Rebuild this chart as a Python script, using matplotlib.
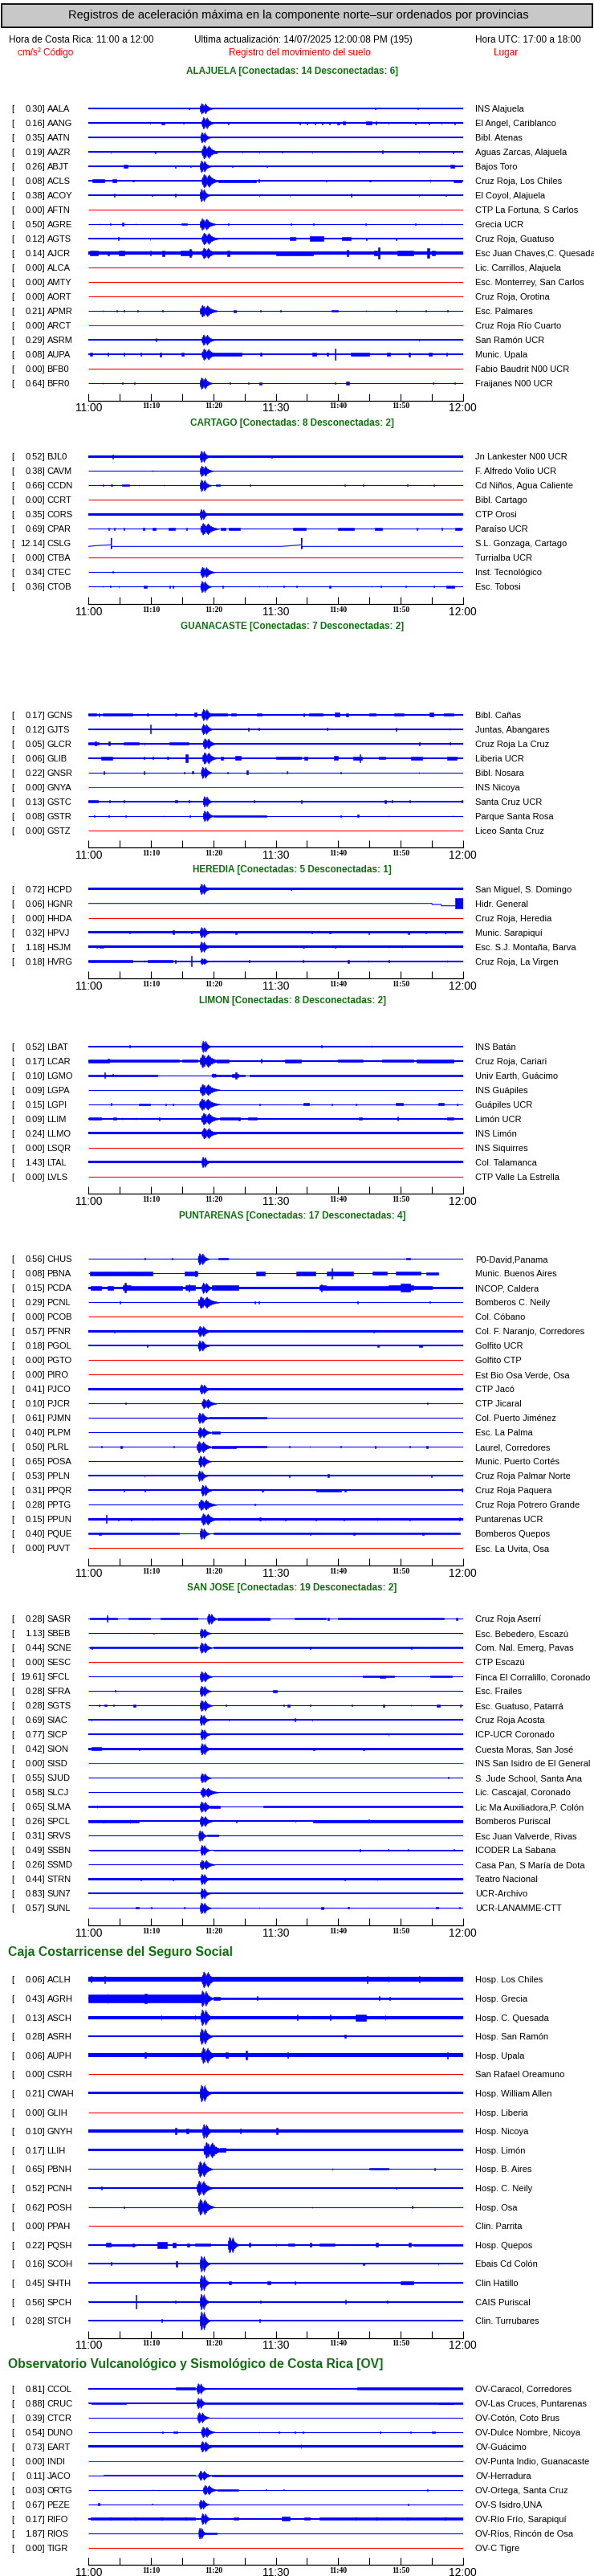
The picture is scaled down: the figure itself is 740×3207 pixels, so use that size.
import numpy as np
import matplotlib
matplotlib.use("Agg")
import matplotlib.pyplot as plt
from matplotlib.patches import Rectangle

W, H = 740, 3207
BLUE = '#0000ff'
RED = '#ff0000'
GREEN = '#0f700f'
SANS = ['Liberation Sans', 'DejaVu Sans']
SERIF = ['Liberation Serif', 'DejaVu Serif']

TITLE = 'Registros de aceleración máxima en la componente norte\u2013sur ordenados por provincias'
HORA_CR = 'Hora de Costa Rica: 11:00 a 12:00'
UPDATED = 'Ultima actualización: 14/07/2025 12:00:08 PM (195)'
HORA_UTC = 'Hora UTC: 17:00 a 18:00'

TICK_MIN = list(range(0, 61, 5))
TICK_TEXT = ['11:00', '', '11:10', '', '11:20', '', '11:30', '', '11:40', '', '11:50', '', '12:00']
BIG_TICKS = ['11:00', '11:30', '12:00']

QUAKE_T = [0.00, 0.03, 0.07, 0.11, 0.15, 0.19, 0.23, 0.27, 0.31, 0.35, 0.39,
           0.43, 0.47, 0.51, 0.55, 0.60, 0.65, 0.71, 0.77, 0.84, 0.92, 1.00]
QUAKE_A = [0.10, 0.55, 0.35, 0.90, 1.00, 0.60, 0.85, 0.45, 0.40, 0.65, 0.80,
           0.95, 0.55, 0.70, 0.40, 0.45, 0.30, 0.28, 0.18, 0.15, 0.08, 0.04]

# ---------------- ALAJUELA
ALA_CODES = ['AALA', 'AANG', 'AATN', 'AAZR', 'ABJT', 'ACLS', 'ACOY', 'AFTN', 'AGRE', 'AGTS',
             'AJCR', 'ALCA', 'AMTY', 'AORT', 'APMR', 'ARCT', 'ASRM', 'AUPA', 'BFB0', 'BFR0']
ALA_PEAKS = [0.30, 0.16, 0.35, 0.19, 0.26, 0.08, 0.38, 0.00, 0.50, 0.12,
             0.14, 0.00, 0.00, 0.00, 0.21, 0.00, 0.29, 0.08, 0.00, 0.64]
ALA_PLACES = ['INS Alajuela', 'El Angel, Cariblanco', 'Bibl. Atenas', 'Aguas Zarcas, Alajuela',
              'Bajos Toro', 'Cruz Roja, Los Chiles', 'El Coyol, Alajuela', 'CTP La Fortuna, S Carlos',
              'Grecia UCR', 'Cruz Roja, Guatuso', 'Esc Juan Chaves,C. Quesada',
              'Lic. Carrillos, Alajuela', 'Esc. Monterrey, San Carlos', 'Cruz Roja, Orotina',
              'Esc. Palmares', 'Cruz Roja Río Cuarto', 'San Ramón UCR', 'Munic. Upala',
              'Fabio Baudrit N00 UCR', 'Fraijanes N00 UCR']
ALA_NOISE = [0.8, 0.6, 0.8, 0.9, 0.6, 1.0, 0.6, 0, 0.4, 1.0, 2.0, 0, 0, 0, 0.4, 0, 1.2, 1.3, 0, 0.4]
ALA_QUAKE = [(17.8, 2.1, 6.7), (18.1, 2.0, 7.3), (17.9, 1.6, 6.7), (18.1, 2.7, 8.3), (17.8, 1.8, 7.3),
             (18.1, 2.8, 8.3), (17.8, 1.6, 8.0), (0, 0, 0), (17.8, 2.6, 7.3), (18.1, 2.7, 7.3),
             (18.1, 2.5, 6.7), (0, 0, 0), (0, 0, 0), (0, 0, 0), (17.8, 2.9, 7.3),
             (0, 0, 0), (18.1, 2.1, 6.7), (18.1, 2.6, 7.0), (0, 0, 0), (17.8, 2.0, 7.3)]
ALA_BURSTS = [
    [(16.0, 16.1, 1.2), (45.9, 46.0, 1.3), (52.7, 52.8, 1.3)],
    [(0.4, 0.5, 1.3), (9.8, 9.9, 1.5), (11.6, 12.2, 1.5), (15.1, 15.2, 1.3), (22.3, 22.5, 1.5),
     (33.8, 33.9, 1.5), (35.0, 35.1, 1.5), (36.2, 36.3, 1.5), (37.4, 37.5, 1.5), (38.6, 38.7, 1.5),
     (39.8, 40.2, 1.5), (40.7, 41.1, 1.8), (44.5, 45.3, 1.8), (46.0, 46.1, 2.0), (48.0, 48.1, 1.5),
     (52.3, 52.4, 1.5), (54.5, 54.6, 1.5), (56.5, 56.6, 1.5), (58.6, 58.7, 1.5)],
    [],
    [(3.5, 3.6, 1.5), (10.6, 10.7, 1.5), (20.3, 20.5, 1.5), (24.6, 24.7, 1.5), (27.3, 27.4, 1.5),
     (31.0, 31.1, 1.3), (35.8, 35.9, 1.5), (47.0, 47.2, 1.8), (52.9, 53.0, 1.5), (58.4, 58.5, 1.5)],
    [(5.6, 6.2, 1.8), (13.9, 14.0, 1.5), (16.3, 16.4, 1.3), (23.0, 23.1, 1.3), (28.5, 28.6, 1.3),
     (58.0, 58.6, 1.8)],
    [(0.6, 2.5, 1.6), (3.8, 4.4, 1.6), (7.0, 7.3, 1.4), (20.8, 26.8, 1.5), (27.2, 27.4, 2.2),
     (38.0, 38.2, 1.4), (45.0, 45.2, 1.4), (54.7, 54.8, 1.6), (58.5, 59.8, 1.5)],
    [(4.1, 4.2, 2.3), (10.1, 10.2, 1.3), (13.9, 14.0, 2.0), (27.3, 27.4, 1.5), (32.2, 32.3, 1.5),
     (42.0, 42.1, 2.0), (52.9, 53.0, 1.5), (57.2, 57.3, 1.3)],
    [],
    [(1.7, 1.8, 1.0), (3.4, 3.5, 1.0), (5.3, 5.6, 2.0), (7.5, 7.6, 1.0), (14.9, 15.8, 1.0),
     (22.3, 22.4, 1.3), (32.4, 32.5, 1.0), (36.0, 36.1, 1.3), (44.3, 44.4, 1.0), (52.3, 52.4, 1.0),
     (56.5, 56.6, 1.0)],
    [(4.7, 4.8, 2.3), (9.8, 9.9, 1.5), (32.2, 33.1, 2.2), (35.5, 37.6, 2.8), (40.6, 42.0, 1.8),
     (44.4, 44.6, 1.5), (49.2, 49.4, 1.5)],
    [(0.2, 1.5, 3.0), (3.0, 3.3, 2.5), (4.8, 5.8, 3.0), (9.8, 10.0, 3.0), (11.8, 12.2, 3.5),
     (14.8, 16.5, 3.3), (16.2, 16.4, 5.0), (22.2, 22.6, 3.5), (30.0, 36.0, 2.5), (41.4, 41.6, 4.0),
     (45.8, 46.6, 3.3), (46.4, 46.6, 6.7), (49.5, 52.0, 2.8), (54.2, 54.6, 6.0), (55.0, 55.5, 3.0)],
    [], [], [],
    [(2.2, 2.3, 1.0), (4.5, 4.6, 1.0), (5.6, 5.7, 1.0), (7.8, 7.9, 1.0), (11.8, 11.9, 1.0),
     (23.2, 23.6, 1.5), (27.5, 27.6, 1.0), (30.7, 30.8, 1.0), (38.9, 40.0, 1.2), (44.4, 44.5, 1.0),
     (49.2, 49.3, 1.0), (54.0, 54.1, 1.0), (57.5, 57.6, 1.0)],
    [],
    [(10.8, 10.9, 2.0), (52.9, 53.0, 1.5)],
    [(0.2, 0.6, 2.0), (3.0, 3.2, 2.0), (5.6, 5.8, 2.0), (8.3, 8.5, 2.0), (11.4, 11.6, 2.5),
     (14.9, 15.2, 2.0), (19.8, 24.5, 2.0), (27.5, 27.8, 2.0), (35.8, 36.5, 2.0), (38.2, 38.4, 2.0),
     (39.4, 39.6, 7.3), (42.0, 45.0, 2.0), (47.8, 48.3, 2.0), (51.3, 51.5, 2.5), (54.5, 55.0, 2.0),
     (57.3, 57.5, 2.3)],
    [],
    [(2.2, 2.3, 1.0), (5.4, 5.5, 1.3), (7.3, 7.4, 1.0), (22.6, 22.7, 1.0), (25.6, 25.7, 1.0),
     (27.4, 27.7, 1.5), (39.5, 39.6, 1.3), (41.2, 41.7, 1.6), (55.2, 55.3, 1.3), (58.6, 58.7, 1.3)],
]

# ---------------- CARTAGO
CAR_CODES = ['BJL0', 'CAVM', 'CCDN', 'CCRT', 'CORS', 'CPAR', 'CSLG', 'CTBA', 'CTEC', 'CTOB']
CAR_PEAKS = [0.52, 0.38, 0.66, 0.00, 0.35, 0.69, 12.14, 0.00, 0.34, 0.36]
CAR_PLACES = ['Jn Lankester N00 UCR', 'F. Alfredo Volio UCR', 'Cd Niños, Agua Caliente',
              'Bibl. Cartago', 'CTP Orosi', 'Paraíso UCR', 'S.L. Gonzaga, Cartago',
              'Turrialba UCR', 'Inst. Tecnológico', 'Esc. Tobosi']
CAR_NOISE = [1.3, 0.4, 0.5, 0, 1.4, 0.7, 0.4, 0, 0.5, 0.45]
CAR_QUAKE = [(17.8, 1.6, 7.3), (17.8, 2.1, 6.7), (17.8, 1.8, 7.3), (0, 0, 0), (17.8, 1.4, 6.7),
             (17.9, 2.9, 7.3), (0, 0, 0), (0, 0, 0), (17.9, 2.3, 6.7), (17.9, 1.7, 7.3)]
CAR_BURSTS = [
    [(3.8, 3.9, 2.3), (29.3, 29.4, 1.5)],
    [(10.2, 10.3, 1.0)],
    [(2.3, 2.4, 1.0), (3.6, 3.8, 1.2), (5.3, 6.5, 1.2), (8.0, 8.1, 1.0), (12.0, 12.1, 1.0),
     (20.4, 21.0, 1.2), (25.8, 25.9, 1.0), (41.0, 41.1, 1.0), (44.0, 44.1, 1.0), (51.0, 51.1, 1.0),
     (55.3, 55.4, 1.0)],
    [],
    [],
    [(3.2, 3.3, 1.3), (4.1, 4.2, 1.3), (5.6, 5.7, 1.3), (8.7, 9.0, 1.3), (10.2, 10.8, 1.5),
     (12.8, 13.8, 1.5), (15.7, 15.8, 1.3), (21.2, 22.0, 1.5), (22.4, 24.2, 1.6), (32.8, 34.8, 1.5),
     (40.0, 42.5, 1.6), (45.9, 47.0, 1.6), (52.6, 52.7, 1.3), (56.6, 56.7, 1.3), (58.8, 59.8, 1.5)],
    [],
    [],
    [(3.8, 3.9, 1.0)],
    [(2.2, 2.3, 1.0), (3.4, 3.5, 1.0), (4.8, 4.9, 1.8), (8.8, 9.4, 1.5), (13.0, 13.1, 1.3),
     (13.5, 13.6, 1.3), (21.4, 21.5, 1.3), (27.3, 27.4, 1.0), (28.6, 28.7, 1.0), (31.2, 31.3, 1.0),
     (33.3, 33.4, 1.0), (38.6, 38.8, 1.7), (45.3, 45.4, 1.2), (46.8, 46.9, 1.2), (50.8, 50.9, 1.0),
     (55.3, 55.4, 1.0), (57.3, 58.6, 1.5)],
]

# ---------------- GUANACASTE
GUA_CODES = ['GCNS', 'GJTS', 'GLCR', 'GLIB', 'GNSR', 'GNYA', 'GSTC', 'GSTR', 'GSTZ']
GUA_PEAKS = [0.17, 0.12, 0.05, 0.06, 0.22, 0.00, 0.13, 0.08, 0.00]
GUA_PLACES = ['Bibl. Cañas', 'Juntas, Abangares', 'Cruz Roja La Cruz', 'Liberia UCR',
              'Bibl. Nosara', 'INS Nicoya', 'Santa Cruz UCR', 'Parque Santa Rosa', 'Liceo Santa Cruz']
GUA_NOISE = [1.0, 1.0, 1.1, 1.2, 0.4, 0, 1.1, 0.4, 0]
GUA_QUAKE = [(18.1, 1.9, 7.3), (18.1, 1.8, 6.7), (18.3, 2.1, 6.7), (18.2, 2.4, 7.3), (18.0, 1.7, 7.3),
             (0, 0, 0), (18.3, 1.5, 6.7), (18.3, 1.7, 6.7), (0, 0, 0)]
GUA_BURSTS = [
    [(0.0, 1.2, 1.4), (1.6, 1.8, 1.8), (2.2, 7.0, 1.3), (9.4, 9.6, 1.5), (13.9, 14.1, 1.5),
     (16.9, 17.3, 2.7), (19.6, 22.2, 1.4), (22.9, 23.6, 1.5), (27.0, 27.8, 1.5), (34.4, 34.6, 1.8),
     (35.3, 37.5, 1.4), (39.4, 40.2, 2.3), (41.3, 41.6, 2.0), (45.0, 46.0, 1.5), (49.0, 50.5, 1.4),
     (54.6, 55.3, 2.3), (57.0, 58.5, 1.5)],
    [(9.9, 10.0, 5.3), (25.5, 25.7, 1.8), (27.2, 27.3, 1.5), (38.2, 38.3, 1.5), (49.2, 49.4, 2.0),
     (57.8, 57.9, 1.5)],
    [(0.0, 1.6, 1.5), (1.0, 1.2, 2.3), (3.2, 3.4, 2.3), (5.6, 8.0, 1.4), (8.9, 9.0, 1.8),
     (13.0, 16.0, 1.4), (52.9, 53.1, 1.8), (57.9, 58.0, 1.5)],
    [(2.0, 3.8, 1.8), (8.8, 9.0, 1.6), (10.2, 10.4, 1.6), (12.6, 12.8, 1.6), (15.5, 15.9, 5.0),
     (21.2, 21.6, 1.8), (23.5, 24.4, 2.5), (30.0, 34.0, 1.5), (34.6, 35.1, 2.0), (39.3, 39.9, 2.7),
     (42.4, 43.8, 2.0), (43.4, 43.6, 5.0), (46.5, 47.5, 1.6), (51.7, 53.5, 1.8), (57.5, 59.0, 1.8)],
    [(2.4, 2.5, 1.8), (8.8, 8.9, 1.8), (15.3, 15.4, 1.2), (16.6, 16.8, 1.6), (22.2, 22.3, 1.2),
     (25.3, 25.5, 2.7), (30.9, 31.0, 1.2), (31.7, 31.9, 1.4), (40.4, 40.5, 1.0), (52.9, 53.0, 1.0)],
    [],
    [(0.0, 1.5, 1.4), (3.3, 3.4, 1.4), (5.6, 5.7, 1.4), (13.8, 14.2, 1.6), (16.0, 16.1, 1.6),
     (26.5, 26.6, 1.5), (34.0, 34.2, 1.8), (47.4, 47.7, 2.0), (48.6, 48.7, 1.6), (51.4, 51.5, 1.6),
     (59.8, 60.0, 1.6)],
    [(20.0, 28.5, 1.0), (0.9, 1.0, 0.9), (3.2, 3.3, 0.9), (5.9, 6.0, 0.9), (12.0, 12.1, 1.0),
     (16.2, 16.3, 1.0), (40.3, 40.5, 1.2), (43.1, 43.3, 1.3), (48.0, 48.1, 1.0), (58.3, 58.4, 0.9)],
    [],
]

# ---------------- HEREDIA
HER_CODES = ['HCPD', 'HGNR', 'HHDA', 'HPVJ', 'HSJM', 'HVRG']
HER_PEAKS = [0.72, 0.06, 0.00, 0.32, 1.18, 0.18]
HER_PLACES = ['San Miguel, S. Domingo', 'Hidr. General', 'Cruz Roja, Heredia', 'Munic. Sarapiquí',
              'Esc. S.J. Montaña, Barva', 'Cruz Roja, La Virgen']
HER_NOISE = [1.3, 0.4, 0, 1.2, 1.2, 1.0]
HER_QUAKE = [(17.8, 1.6, 6.7), (0, 0, 0), (0, 0, 0), (17.8, 1.7, 6.7), (17.8, 1.6, 6.7), (17.9, 1.5, 4.0)]
HER_BURSTS = [
    [(32.4, 32.5, 1.7)],
    [(58.8, 60.0, 6.5)],
    [],
    [(6.5, 6.6, 1.5), (13.5, 13.7, 2.3), (16.4, 16.5, 1.5), (23.5, 23.7, 2.0), (35.7, 35.8, 1.5),
     (38.6, 38.8, 1.8), (44.8, 45.0, 2.0), (51.2, 51.4, 2.0), (54.0, 54.1, 1.5), (57.1, 57.2, 1.5)],
    [(1.2, 1.3, 1.8), (1.7, 2.4, 1.6), (34.3, 34.5, 1.7), (39.5, 39.6, 1.5), (48.0, 48.1, 1.5),
     (50.2, 50.3, 1.5)],
    [(16.4, 16.6, 6.7), (0.0, 7.0, 1.3), (8.9, 9.0, 1.6), (9.5, 13.5, 1.2), (13.8, 14.0, 2.0),
     (25.7, 25.8, 1.5), (34.3, 34.4, 1.6), (41.5, 41.7, 2.0), (44.8, 44.9, 1.5), (48.0, 48.2, 1.8),
     (57.4, 57.5, 1.8)],
]

# ---------------- LIMON
LIM_CODES = ['LBAT', 'LCAR', 'LGMO', 'LGPA', 'LGPI', 'LLIM', 'LLMO', 'LSQR', 'LTAL', 'LVLS']
LIM_PEAKS = [0.52, 0.17, 0.10, 0.09, 0.15, 0.09, 0.24, 0.00, 1.43, 0.00]
LIM_PLACES = ['INS Batán', 'Cruz Roja, Cariari', 'Univ Earth, Guácimo', 'INS Guápiles',
              'Guápiles UCR', 'Limón UCR', 'INS Limón', 'INS Siquirres', 'Col. Talamanca',
              'CTP Valle La Estrella']
LIM_NOISE = [1.1, 0.9, 0.5, 0.4, 0.45, 0.8, 1.4, 0, 1.6, 0]
LIM_QUAKE = [(18.1, 1.5, 7.3), (17.8, 3.2, 8.3), (19.7, 1.2, 2.5), (17.8, 3.2, 7.3), (17.7, 3.3, 7.3),
             (18.0, 3.0, 7.3), (18.1, 2.7, 6.7), (0, 0, 0), (18.1, 1.3, 6.7), (0, 0, 0)]
LIM_BURSTS = [
    [(6.5, 6.6, 1.5), (37.3, 37.4, 1.5), (45.3, 45.4, 1.5)],
    [(0.0, 3.0, 1.8), (3.0, 3.3, 2.7), (3.3, 14.5, 1.7), (15.0, 17.5, 1.7), (20.5, 22.5, 1.8),
     (27.6, 27.8, 2.7), (31.5, 34.0, 1.8), (40.0, 44.0, 1.7), (47.0, 52.0, 1.5), (52.5, 58.5, 1.8)],
    [(0.0, 11.0, 1.0), (2.5, 2.7, 3.5), (3.8, 3.9, 1.3), (20.3, 25.0, 1.0), (23.0, 24.0, 1.8),
     (23.5, 23.8, 4.0), (25.8, 60.0, 1.0)],
    [],
    [(3.6, 3.7, 1.3), (8.1, 9.8, 1.2), (12.3, 12.4, 1.1), (13.5, 13.6, 1.1), (27.4, 27.5, 1.1),
     (34.4, 35.3, 1.6), (38.9, 39.0, 1.1), (42.8, 42.9, 1.1), (49.2, 50.4, 1.3), (56.0, 56.9, 1.3),
     (59.0, 59.1, 1.1)],
    [(0.1, 2.0, 1.3), (4.0, 4.5, 1.3), (5.3, 5.4, 1.3), (7.5, 7.6, 1.3), (11.3, 11.4, 2.0),
     (21.0, 24.0, 1.6), (24.0, 24.2, 2.0), (25.5, 27.0, 1.4), (43.3, 43.8, 1.6), (49.5, 49.6, 2.3),
     (57.5, 58.5, 1.4)],
    [], [], [], [],
]

# ---------------- PUNTARENAS
PUN_CODES = ['CHUS', 'PBNA', 'PCDA', 'PCNL', 'PCOB', 'PFNR', 'PGOL', 'PGTO', 'PIRO', 'PJCO', 'PJCR',
             'PJMN', 'PLPM', 'PLRL', 'POSA', 'PPLN', 'PPQR', 'PPTG', 'PPUN', 'PQUE', 'PUVT']
PUN_PEAKS = [0.56, 0.08, 0.15, 0.29, 0.00, 0.57, 0.18, 0.00, 0.00, 0.41, 0.10,
             0.61, 0.40, 0.50, 0.65, 0.53, 0.31, 0.28, 0.15, 0.40, 0.00]
PUN_PLACES = ['P0-David,Panama', 'Munic. Buenos Aires', 'INCOP, Caldera', 'Bomberos C. Neily',
              'Col. Cóbano', 'Col. F. Naranjo, Corredores', 'Golfito UCR', 'Golfito CTP',
              'Est Bio Osa Verde, Osa', 'CTP Jacó', 'CTP Jicaral', 'Col. Puerto Jiménez',
              'Esc. La Palma', 'Laurel, Corredores', 'Munic. Puerto Cortés', 'Cruz Roja Palmar Norte',
              'Cruz Roja Paquera', 'Cruz Roja Potrero Grande', 'Puntarenas UCR', 'Bomberos Quepos',
              'Esc. La Uvita, Osa']
PUN_NOISE = [0.4, 0.45, 1.8, 0.4, 0, 1.2, 0.9, 0, 0, 1.3, 0.4, 0.45, 0.4, 0.4, 0.4, 1.1, 1.1, 0.4, 1.2, 0.7, 0]
PUN_QUAKE = [(17.5, 1.8, 7.3), (0, 0, 0), (18.1, 1.8, 6.7), (17.5, 3.4, 7.3), (0, 0, 0), (17.5, 2.1, 6.7),
             (17.5, 1.8, 6.7), (0, 0, 0), (0, 0, 0), (17.8, 1.7, 6.0), (18.1, 2.4, 6.0), (17.5, 1.8, 6.7),
             (17.5, 2.2, 6.7), (17.3, 2.5, 7.3), (17.6, 2.0, 7.3), (17.5, 1.5, 6.7), (18.0, 1.7, 7.0),
             (17.6, 2.9, 6.7), (18.0, 2.6, 7.3), (17.8, 1.6, 7.0), (0, 0, 0)]
PUN_BURSTS = [
    [(9.0, 9.1, 1.0), (13.3, 13.4, 1.0), (20.8, 22.3, 0.9), (50.9, 51.5, 1.0)],
    [(0.2, 10.2, 2.3), (15.4, 17.5, 2.5), (17.1, 17.3, 3.5), (26.8, 28.2, 2.7), (33.3, 36.3, 2.3),
     (38.2, 42.4, 2.2), (38.9, 39.1, 6.7), (45.5, 47.8, 2.0), (49.2, 53.2, 2.0), (54.1, 56.0, 1.6)],
    [(0.3, 2.0, 2.7), (3.0, 4.0, 2.5), (5.5, 6.8, 3.0), (5.8, 6.0, 6.0), (6.8, 15.0, 2.2),
     (15.5, 17.0, 3.0), (16.0, 16.2, 4.5), (19.8, 24.0, 3.0), (37.0, 38.0, 3.0), (37.2, 37.4, 4.5),
     (38.0, 48.0, 2.3), (48.0, 52.0, 3.0), (50.0, 51.5, 5.0), (52.0, 55.0, 2.0)],
    [(5.0, 5.1, 1.5), (26.6, 26.7, 1.3), (27.2, 27.4, 1.5), (43.1, 43.2, 1.7), (54.6, 54.7, 1.0)],
    [],
    [(4.1, 4.2, 1.5), (34.9, 35.0, 1.5), (45.6, 45.7, 1.5)],
    [(9.4, 9.5, 1.4), (46.3, 46.5, 1.3), (53.0, 53.5, 1.3)],
    [], [],
    [],
    [(5.9, 6.0, 1.0), (54.3, 54.4, 1.0)],
    [(19.3, 28.5, 1.0)],
    [(19.7, 21.0, 1.2)],
    [(19.8, 23.6, 1.4), (23.6, 28.5, 0.9), (2.0, 2.1, 1.0), (5.1, 5.4, 1.7), (13.6, 13.7, 1.1),
     (32.1, 32.2, 1.1), (35.4, 35.5, 1.1), (40.4, 40.5, 1.1), (45.9, 46.0, 1.3), (51.4, 51.5, 1.1),
     (54.1, 54.4, 1.3)],
    [],
    [(8.9, 9.0, 1.4), (32.1, 32.2, 1.5), (38.3, 38.5, 2.0), (54.9, 55.0, 1.5)],
    [(5.6, 5.7, 1.5), (9.0, 9.1, 1.4), (27.8, 28.0, 1.6), (36.5, 40.5, 1.5), (41.0, 41.2, 1.7),
     (59.8, 60.0, 2.0)],
    [(26.6, 26.7, 0.9)],
    [(2.8, 2.9, 5.0), (4.7, 4.8, 1.7), (6.8, 6.9, 1.7), (10.2, 10.3, 1.7), (22.4, 22.5, 1.7),
     (27.3, 27.6, 2.0), (28.2, 28.3, 1.7), (31.5, 31.6, 1.7), (36.4, 36.5, 1.7), (40.9, 41.0, 1.7),
     (46.2, 46.3, 2.0), (51.4, 51.5, 1.7), (59.4, 59.5, 2.0)],
    [(0.0, 14.5, 1.0), (1.6, 2.0, 1.4), (20.0, 59.5, 1.0), (35.4, 35.6, 1.5), (42.4, 42.7, 1.5),
     (53.5, 53.7, 1.4)],
    [],
]

# ---------------- SAN JOSE
SJO_CODES = ['SASR', 'SBEB', 'SCNE', 'SESC', 'SFCL', 'SFRA', 'SGTS', 'SIAC', 'SICP', 'SION', 'SISD',
             'SJUD', 'SLCJ', 'SLMA', 'SPCL', 'SRVS', 'SSBN', 'SSMD', 'STRN', 'SUN7', 'SUNL']
SJO_PEAKS = [0.28, 1.13, 0.44, 0.00, 19.61, 0.28, 0.28, 0.69, 0.77, 0.42, 0.00,
             0.55, 0.58, 0.65, 0.26, 0.31, 0.49, 0.26, 0.44, 0.83, 0.57]
SJO_PLACES = ['Cruz Roja Aserrí', 'Esc. Bebedero, Escazú', 'Com. Nal. Emerg, Pavas', 'CTP Escazú',
              'Finca El Corralillo, Coronado', 'Esc. Frailes', 'Esc. Guatuso, Patarrá',
              'Cruz Roja Acosta', 'ICP-UCR Coronado', 'Cuesta Moras, San José',
              'INS San Isidro de El General', 'S. Jude School, Santa Ana', 'Lic. Cascajal, Coronado',
              'Lic Ma Auxiliadora,P. Colón', 'Bomberos Puriscal', 'Esc Juan Valverde, Rivas',
              'ICODER La Sabana', 'Casa Pan, S María de Dota', 'Teatro Nacional', 'UCR-Archivo',
              'UCR-LANAMME-CTT']
SJO_NOISE = [0.7, 0.4, 0.5, 0, 0.4, 0.4, 0.4, 1.1, 1.0, 1.5, 0, 0.4, 0.4, 0.45, 1.0, 0.4, 0.5, 0.4, 1.2, 1.1, 0.4]
SJO_QUAKE = [(19.0, 1.6, 6.7), (17.8, 1.8, 6.0), (17.8, 2.0, 6.7), (0, 0, 0), (17.8, 2.0, 6.7),
             (17.8, 1.8, 6.7), (17.8, 2.0, 7.0), (17.8, 1.5, 6.7), (17.9, 1.5, 6.7), (17.9, 1.6, 7.3),
             (0, 0, 0), (17.9, 1.7, 6.0), (17.9, 2.9, 6.0), (17.8, 2.0, 6.7), (17.8, 2.0, 6.7),
             (17.6, 1.3, 6.7), (17.9, 1.5, 6.7), (17.8, 2.4, 6.0), (17.9, 1.5, 6.7), (17.9, 1.5, 6.7),
             (17.8, 1.8, 7.0)]
SJO_BURSTS = [
    [(2.9, 3.0, 4.0), (0.2, 4.6, 1.1), (6.4, 9.8, 1.1), (11.5, 17.5, 1.0), (20.6, 29.0, 1.2),
     (33.0, 38.0, 1.0), (38.3, 38.5, 1.8), (40.0, 57.0, 1.0), (58.9, 59.1, 1.6)],
    [(6.2, 6.3, 0.8), (10.4, 10.5, 0.8), (59.6, 59.7, 0.8)],
    [(0.2, 17.5, 0.9), (20.0, 60.0, 0.9), (0.5, 0.6, 1.3), (35.5, 35.6, 1.2), (51.7, 51.8, 1.2)],
    [],
    [(44.0, 49.0, 1.0), (46.6, 47.6, 1.3), (54.7, 58.2, 1.0)],
    [(4.2, 4.3, 0.9), (29.6, 30.2, 1.2), (59.6, 59.7, 0.8)],
    [(1.6, 1.7, 1.0), (2.5, 2.9, 1.1), (4.0, 4.1, 1.0), (7.1, 7.5, 1.2), (22.0, 22.1, 1.0),
     (31.2, 31.3, 1.0), (31.9, 32.3, 1.3), (35.5, 35.6, 1.0), (42.2, 42.3, 1.0), (47.2, 47.4, 1.3),
     (51.6, 51.7, 1.0), (55.8, 56.3, 1.3), (59.5, 59.6, 1.3)],
    [(0.4, 0.5, 1.6), (22.4, 22.5, 1.6), (33.0, 33.1, 2.0), (35.8, 35.9, 1.7)],
    [(48.0, 48.1, 1.5)],
    [(0.5, 2.0, 1.9), (8.0, 8.2, 1.8), (36.0, 36.2, 1.8), (44.0, 44.2, 1.8)],
    [],
    [(57.6, 57.7, 1.0)],
    [],
    [(0.0, 18.0, 1.0), (1.3, 1.4, 2.0), (19.5, 21.0, 1.2), (28.0, 60.0, 1.0)],
    [(0.0, 8.0, 1.3), (2.2, 2.4, 1.7), (6.6, 6.7, 2.7), (23.6, 23.7, 1.6), (33.1, 33.2, 1.7),
     (36.0, 60.0, 1.3), (44.8, 45.0, 2.0)],
    [(19.0, 20.8, 0.9)],
    [(0.2, 17.5, 0.8), (20.0, 60.0, 0.8), (43.4, 43.6, 1.2), (47.9, 48.0, 1.1), (51.2, 51.3, 1.1),
     (58.5, 58.6, 1.1)],
    [],
    [(8.3, 8.4, 1.5), (13.5, 13.6, 1.5), (41.0, 41.1, 1.5), (46.2, 46.3, 1.7)],
    [],
    [(7.5, 8.0, 1.0), (10.0, 10.1, 1.0), (15.3, 15.4, 1.0), (27.3, 27.4, 1.0), (37.2, 37.7, 1.2),
     (41.5, 41.8, 1.1), (55.7, 56.0, 1.1), (59.4, 59.5, 1.0)],
]

# ---------------- CAJA COSTARRICENSE DEL SEGURO SOCIAL
CSS_CODES = ['ACLH', 'AGRH', 'ASCH', 'ASRH', 'AUPH', 'CSRH', 'CWAH', 'GLIH', 'GNYH', 'LLIH',
             'PBNH', 'PCNH', 'POSH', 'PPAH', 'PQSH', 'SCOH', 'SHTH', 'SPCH', 'STCH']
CSS_PEAKS = [0.06, 0.43, 0.13, 0.28, 0.06, 0.00, 0.21, 0.00, 0.10, 0.17,
             0.65, 0.52, 0.62, 0.00, 0.22, 0.16, 0.45, 0.56, 0.28]
CSS_PLACES = ['Hosp. Los Chiles', 'Hosp. Grecia', 'Hosp. C. Quesada', 'Hosp. San Ramón',
              'Hosp. Upala', 'San Rafael Oreamuno', 'Hosp. William Allen', 'Hosp. Liberia',
              'Hosp. Nicoya', 'Hosp. Limón', 'Hosp. B. Aires', 'Hosp. C. Neily', 'Hosp. Osa',
              'Clin. Parrita', 'Hosp. Quepos', 'Ebais Cd Colón', 'Clin Hatillo', 'CAIS Puriscal',
              'Clin. Turrubares']
CSS_NOISE = [3.0, 1.0, 2.0, 1.2, 2.3, 0, 1.5, 0, 1.9, 1.3, 0.6, 0.7, 0.4, 0, 0.9, 1.0, 1.2, 0.8, 1.1]
CSS_QUAKE = [(18.1, 2.4, 10.0), (17.9, 2.1, 10.0), (17.9, 2.0, 10.0), (17.8, 2.0, 10.0), (18.0, 2.5, 10.0),
             (0, 0, 0), (17.8, 1.8, 10.7), (0, 0, 0), (18.2, 1.6, 9.0), (18.4, 3.3, 10.0),
             (17.5, 2.3, 10.0), (17.3, 2.6, 9.3), (17.5, 2.6, 10.0), (0, 0, 0), (22.3, 1.8, 10.0),
             (17.8, 1.6, 10.0), (17.8, 1.6, 10.0), (17.8, 1.5, 10.0), (17.8, 1.6, 11.7)]
CSS_BURSTS = [
    [(0.3, 0.4, 4.0), (2.5, 2.6, 4.5), (44.6, 44.7, 4.5), (48.0, 48.1, 4.0), (53.0, 53.1, 4.0)],
    [(0.0, 18.1, 5.0), (3.0, 3.1, 6.0), (9.0, 9.3, 5.8), (20.0, 21.0, 2.0), (21.0, 60.0, 1.3),
     (27.0, 27.1, 2.5), (46.5, 46.6, 2.5), (48.2, 48.3, 2.3)],
    [(11.6, 11.7, 3.5), (17.0, 17.1, 3.3), (33.4, 33.5, 3.5), (38.7, 38.8, 3.5), (42.8, 44.5, 4.0),
     (47.5, 47.6, 3.5)],
    [(41.0, 41.2, 2.0)],
    [(9.0, 9.2, 3.3), (22.0, 22.3, 3.3), (25.2, 25.4, 5.3), (31.8, 32.0, 3.5), (57.5, 57.6, 4.0)],
    [],
    [],
    [],
    [(13.8, 14.1, 4.3), (15.7, 16.0, 3.3), (24.2, 24.4, 3.0), (30.0, 30.3, 3.7)],
    [(21.0, 22.0, 2.5)],
    [(39.0, 39.1, 1.3), (45.0, 48.0, 1.0), (55.4, 55.5, 1.3)],
    [(2.0, 2.1, 1.7), (49.2, 49.3, 1.3)],
    [(5.6, 5.7, 1.0), (35.8, 35.9, 1.0), (51.8, 51.9, 1.3)],
    [],
    [(2.8, 3.5, 2.3), (3.5, 7.5, 1.2), (7.0, 7.3, 1.8), (11.0, 12.5, 4.0), (13.5, 14.0, 3.0),
     (15.8, 16.2, 2.0), (17.0, 19.5, 1.5), (25.7, 25.9, 2.7), (30.0, 30.1, 2.0), (32.0, 33.0, 1.5),
     (35.5, 35.7, 2.7), (37.0, 39.5, 1.5), (46.0, 46.4, 2.3), (51.3, 51.6, 2.3), (52.0, 60.0, 1.2)],
    [(3.6, 3.7, 2.0), (14.0, 14.2, 3.3), (44.0, 44.2, 1.7), (56.0, 56.1, 1.7)],
    [(22.4, 22.8, 2.0), (28.7, 29.1, 2.0), (33.0, 33.1, 1.7), (50.0, 52.0, 1.7)],
    [(7.6, 7.7, 8.3), (13.9, 14.0, 1.3), (27.5, 27.6, 1.3), (41.1, 41.2, 2.7), (47.8, 47.9, 1.5)],
    [(11.7, 11.8, 2.0), (27.4, 27.5, 2.0)],
]

# ---------------- OVSICORI
OV_CODES = ['CCOL', 'CRUC', 'CTCR', 'DUNO', 'EART', 'INDI', 'JACO', 'ORTG', 'PEZE', 'RIFO', 'RIOS', 'TIGR']
OV_PEAKS = [0.81, 0.88, 0.39, 0.54, 0.73, 0.00, 0.11, 0.03, 0.67, 0.17, 1.87, 0.00]
OV_PLACES = ['OV-Caracol, Corredores', 'OV-Las Cruces, Puntarenas', 'OV-Cotón, Coto Brus',
             'OV-Dulce Nombre, Nicoya', 'OV-Guácimo', 'OV-Punta Indio, Guanacaste', 'OV-Herradura',
             'OV-Ortega, Santa Cruz', 'OV-S Isidro,UNA', 'OV-Río Frío, Sarapiquí',
             'OV-Ríos, Rincón de Osa', 'OV-C Tigre']
OV_NOISE = [1.2, 0.6, 0.45, 0.4, 1.4, 0, 0.5, 0.4, 0.45, 1.0, 0.4, 0]
OV_QUAKE = [(17.3, 1.6, 6.7), (17.3, 1.6, 6.7), (17.4, 1.9, 6.7), (18.0, 2.2, 6.7), (17.9, 2.0, 6.7),
            (0, 0, 0), (17.6, 2.1, 6.0), (18.3, 2.3, 6.0), (17.7, 1.6, 6.0), (18.0, 1.6, 7.0),
            (17.6, 1.2, 7.0), (0, 0, 0)]
OV_BURSTS = [
    [(14.0, 17.0, 1.4), (43.0, 60.0, 1.4)],
    [(0.5, 6.0, 0.9), (18.7, 43.0, 1.2), (43.0, 60.0, 0.9), (56.0, 58.5, 1.2)],
    [],
    [(11.8, 11.9, 1.1), (13.6, 14.2, 1.2), (27.3, 27.4, 1.0), (30.5, 30.6, 1.0), (33.0, 33.2, 1.0),
     (34.3, 34.4, 1.0), (46.7, 46.8, 1.0), (51.5, 51.6, 1.1), (55.0, 55.5, 1.1)],
    [(34.0, 34.1, 2.7)],
    [],
    [(2.4, 17.0, 0.8), (19.7, 60.0, 0.9)],
    [(20.6, 24.0, 1.0), (10.2, 10.3, 0.8), (28.4, 28.5, 0.8), (31.2, 31.3, 0.8), (54.3, 54.4, 1.0)],
    [(1.5, 1.7, 1.4), (10.1, 10.2, 0.8), (51.2, 51.3, 1.0)],
    [(0.3, 17.0, 1.3), (3.4, 3.5, 1.6), (7.4, 7.5, 1.8), (11.5, 11.9, 1.8), (15.5, 15.6, 1.6),
     (23.2, 24.0, 1.6), (31.0, 32.3, 2.3), (34.5, 35.5, 1.8), (37.0, 60.0, 1.3), (42.8, 42.9, 1.8),
     (46.0, 46.2, 1.6), (51.0, 51.1, 1.6), (57.0, 57.3, 1.6)],
    [(18.3, 20.5, 1.0)],
    [],
]

# traces that are not a flat line with bursts (minutes, offset in px)
CSLG_T = [0, 0.8, 1.8, 3.6, 3.65, 3.65, 3.7, 30.9, 32.5, 34.1, 34.15, 34.15, 34.2, 60]
CSLG_DY = [4.0, 3.3, 2.7, 2.0, -6.3, 7.0, 4.0, 4.0, 3.0, 2.0, -6.3, 7.0, 4.0, 4.0]
HGNR_T = [0, 55.0, 55.05, 56.5, 56.55, 58.8]
HGNR_DY = [0, 0, 1.3, 1.3, 3.0, 3.0]
SPECIAL = {'CSLG': (CSLG_T, CSLG_DY), 'HGNR': (HGNR_T, HGNR_DY)}
TRACE_END = {'PBNA': 56.0, 'PQUE': 59.5}

SECTION_NAMES = ['ALAJUELA', 'CARTAGO', 'GUANACASTE', 'HEREDIA', 'LIMON', 'PUNTARENAS', 'SAN JOSE',
                 'Caja Costarricense del Seguro Social',
                 'Observatorio Vulcanológico y Sismológico de Costa Rica [OV]']
SECTIONS = [
    (ALA_CODES, ALA_PEAKS, ALA_PLACES, ALA_NOISE, ALA_QUAKE, ALA_BURSTS),
    (CAR_CODES, CAR_PEAKS, CAR_PLACES, CAR_NOISE, CAR_QUAKE, CAR_BURSTS),
    (GUA_CODES, GUA_PEAKS, GUA_PLACES, GUA_NOISE, GUA_QUAKE, GUA_BURSTS),
    (HER_CODES, HER_PEAKS, HER_PLACES, HER_NOISE, HER_QUAKE, HER_BURSTS),
    (LIM_CODES, LIM_PEAKS, LIM_PLACES, LIM_NOISE, LIM_QUAKE, LIM_BURSTS),
    (PUN_CODES, PUN_PEAKS, PUN_PLACES, PUN_NOISE, PUN_QUAKE, PUN_BURSTS),
    (SJO_CODES, SJO_PEAKS, SJO_PLACES, SJO_NOISE, SJO_QUAKE, SJO_BURSTS),
    (CSS_CODES, CSS_PEAKS, CSS_PLACES, CSS_NOISE, CSS_QUAKE, CSS_BURSTS),
    (OV_CODES, OV_PEAKS, OV_PLACES, OV_NOISE, OV_QUAKE, OV_BURSTS),
]

# layout in pixels
HEADER_Y = [89, 527, 780, 1083.3, 1245.7, 1514, 1977.3, 2430.7, 2943.3]
FIRST_Y = [135, 568.3, 889.7, 1106.7, 1302.7, 1567.3, 2015.3, 2464.3, 2973.7]
ROW_STEP = [18, 18, 18, 18, 18, 18, 18, 23.6, 18]
BIG_HEADER = [False] * 7 + [True, True]
X0, X1 = 110.4, 576.8


def draw_trace(ax, y0, code, peak, hw, quake, bursts):
    if peak <= 0:
        ax.plot([0, 60], [y0, y0], color=RED, lw=0.8, solid_capstyle='butt')
        return
    end = TRACE_END.get(code, 60.0)
    if code in SPECIAL:
        t, dy = SPECIAL[code]
        ax.plot(t, y0 + np.array(dy), color=BLUE, lw=0.8)
    else:
        ax.plot([0, end], [y0, y0], color=BLUE, lw=0.8, solid_capstyle='butt')
        if hw > 0.5:
            ax.fill_between([0, end], y0 - hw, y0 + hw, color=BLUE, lw=0)
    if bursts:
        b = np.array(bursts, dtype=float)
        ax.bar(b[:, 0], 2 * b[:, 2], width=b[:, 1] - b[:, 0], bottom=y0 - b[:, 2], align='edge',
               color=BLUE, edgecolor=BLUE, linewidth=0.4)
    onset, dur, amp = quake
    if amp > 0:
        t = onset + np.array(QUAKE_T) * dur
        a = amp * np.array(QUAKE_A)
        ax.fill_between(t, y0 - a, y0 + a, color=BLUE, lw=0.4)


fig = plt.figure(figsize=(W / 100, H / 100), dpi=100)
canvas = fig.add_axes([0, 0, 1, 1])
canvas.set_xlim(0, W)
canvas.set_ylim(H, 0)
canvas.axis('off')

# header block
canvas.add_patch(Rectangle((2, 5), 736, 29, facecolor='#c8c8c8', edgecolor='black', lw=1.3))
canvas.text(371.5, 19.5, TITLE, ha='center', va='center', fontsize=10.5, family=SANS)
canvas.text(11.4, 50, HORA_CR, ha='left', va='center', fontsize=8.5, family=SANS)
canvas.text(377.5, 50, UPDATED, ha='center', va='center', fontsize=8.5, family=SANS)
canvas.text(592.4, 50, HORA_UTC, ha='left', va='center', fontsize=8.5, family=SANS)
canvas.text(22.3, 66, 'cm/s\u00b2 Código', ha='left', va='center', fontsize=8.5, family=SANS, color=RED)
canvas.text(373, 66, 'Registro del movimiento del suelo', ha='center', va='center',
            fontsize=8.5, family=SANS, color=RED)
canvas.text(630, 66, 'Lugar', ha='center', va='center', fontsize=8.5, family=SANS, color=RED)

for i, (codes, peaks, places, noise, quake, bursts) in enumerate(SECTIONS):
    step = ROW_STEP[i]
    ys = FIRST_Y[i] + step * np.arange(len(codes))
    n_on = sum(1 for p in peaks if p > 0)
    if BIG_HEADER[i]:
        canvas.text(10.4, HEADER_Y[i], SECTION_NAMES[i], ha='left', va='center',
                    fontsize=11.3, fontweight='bold', family=SANS, color=GREEN)
    else:
        head = f'{SECTION_NAMES[i]} [Conectadas: {n_on} Desconectadas: {len(peaks) - n_on}]'
        canvas.text(364, HEADER_Y[i], head, ha='center', va='center',
                    fontsize=8.5, fontweight='bold', family=SANS, color=GREEN)

    axis_y = ys[-1] + 21.5
    top = FIRST_Y[i] - step
    ax = fig.add_axes([X0 / W, 1 - axis_y / H, (X1 - X0) / W, (axis_y - top) / H])
    ax.set_facecolor('none')
    ax.set_xlim(0, 60)
    ax.set_ylim(axis_y, top)
    for side in ['top', 'left', 'right']:
        ax.spines[side].set_visible(False)
    ax.spines['bottom'].set_linewidth(0.9)
    ax.set_yticks([])
    ax.set_xticks(TICK_MIN)
    ax.set_xticklabels(TICK_TEXT)
    ax.tick_params(axis='x', direction='in', length=6.5, width=0.8, pad=2)
    for lab, txt in zip(ax.get_xticklabels(), TICK_TEXT):
        if txt in BIG_TICKS:
            lab.set_fontsize(10)
            lab.set_family(SANS)
        else:
            lab.set_fontsize(7)
            lab.set_family(SERIF)
            lab.set_fontweight('bold')

    for y0, code, pk, place, hw, qk, bl in zip(ys, codes, peaks, places, noise, quake, bursts):
        draw_trace(ax, y0, code, pk, hw, qk, bl)
        yb = y0 + 4.0
        canvas.text(14.2, yb, '[', ha='left', va='baseline', fontsize=8, family=SANS)
        canvas.text(56.2, yb, f'{pk:.2f}]', ha='right', va='baseline', fontsize=8, family=SANS)
        canvas.text(58.5, yb, code, ha='left', va='baseline', fontsize=8, family=SANS)
        canvas.text(592.4, yb, place, ha='left', va='baseline', fontsize=8, family=SANS)

fig.savefig('out.png', dpi=100)
